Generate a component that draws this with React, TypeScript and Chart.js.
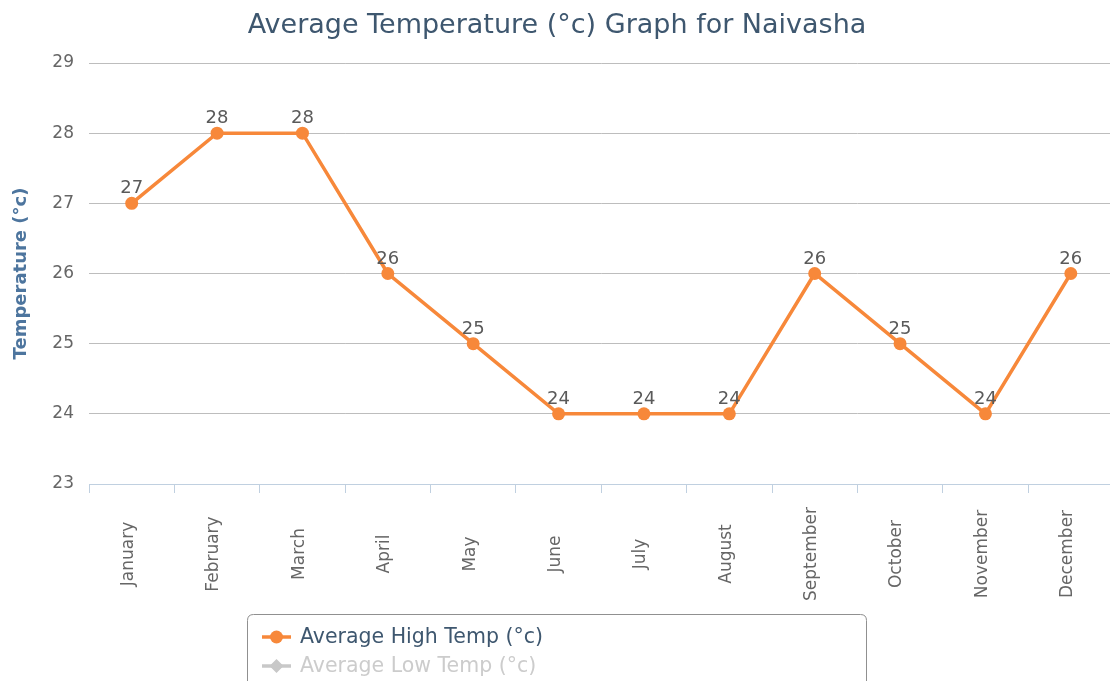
import React, { useEffect, useRef } from "react";
import { Chart, registerables } from "chart.js";

Chart.register(...registerables);

const months = [
  "January", "February", "March", "April", "May", "June",
  "July", "August", "September", "October", "November", "December",
];
const highTemps = [27, 28, 28, 26, 25, 24, 24, 24, 26, 25, 24, 26];
const lowTemps: number[] = []; // series hidden in the reference
const seriesLabels = ["Average High Temp (°c)", "Average Low Temp (°c)"];
const titleText = "Average Temperature (°c) Graph for Naivasha";
const yAxisTitle = "Temperature (°c)";
const yMin = 23;
const yMax = 29;
const yStep = 1;

const FONT = "'DejaVu Sans', Verdana, sans-serif";
const HIGH_COLOR = "#f7883a";
const LOW_COLOR = "#c8c8c8";

const W = 1120;
const H = 681;

const customPlugin = {
  id: "customDraw",
  afterDatasetsDraw(chart: any) {
    const ctx = chart.ctx;
    ctx.save();
    ctx.font = `18px ${FONT}`;
    ctx.fillStyle = "#5a5a5a";
    ctx.textAlign = "center";
    ctx.textBaseline = "alphabetic";
    chart.data.datasets.forEach((ds: any, di: number) => {
      if (!chart.isDatasetVisible(di)) return;
      const meta = chart.getDatasetMeta(di);
      meta.data.forEach((pt: any, i: number) => {
        ctx.fillText(String(ds.data[i]), pt.x, pt.y - 10);
      });
    });
    ctx.restore();
  },
  afterDraw(chart: any) {
    const ctx = chart.ctx;
    const xs = chart.scales.x;
    ctx.save();
    // title
    ctx.font = `27px ${FONT}`;
    ctx.fillStyle = "#3e576f";
    ctx.textAlign = "center";
    ctx.textBaseline = "middle";
    ctx.fillText(titleText, 557, 26);

    // x labels, rotated, centered
    ctx.font = `17px ${FONT}`;
    ctx.fillStyle = "#666666";
    months.forEach((m, i) => {
      const x = xs.getPixelForValue(i) - 3;
      ctx.save();
      ctx.translate(x, 554);
      ctx.rotate(-Math.PI / 2);
      ctx.textAlign = "center";
      ctx.textBaseline = "middle";
      ctx.fillText(m, 0, 0);
      ctx.restore();
    });

    // legend box
    const bx = 247.5, by = 614.5, bw = 619, bh = 90, r = 6;
    ctx.beginPath();
    ctx.moveTo(bx + r, by);
    ctx.lineTo(bx + bw - r, by);
    ctx.quadraticCurveTo(bx + bw, by, bx + bw, by + r);
    ctx.lineTo(bx + bw, by + bh - r);
    ctx.quadraticCurveTo(bx + bw, by + bh, bx + bw - r, by + bh);
    ctx.lineTo(bx + r, by + bh);
    ctx.quadraticCurveTo(bx, by + bh, bx, by + bh - r);
    ctx.lineTo(bx, by + r);
    ctx.quadraticCurveTo(bx, by, bx + r, by);
    ctx.closePath();
    ctx.fillStyle = "#ffffff";
    ctx.fill();
    ctx.strokeStyle = "#909090";
    ctx.lineWidth = 1;
    ctx.stroke();

    // item 1
    const y1 = 637;
    ctx.strokeStyle = HIGH_COLOR;
    ctx.lineWidth = 3.5;
    ctx.beginPath();
    ctx.moveTo(262, y1);
    ctx.lineTo(291, y1);
    ctx.stroke();
    ctx.fillStyle = HIGH_COLOR;
    ctx.beginPath();
    ctx.arc(276.5, y1, 6.5, 0, Math.PI * 2);
    ctx.fill();
    ctx.font = `20.5px ${FONT}`;
    ctx.fillStyle = "#3e576f";
    ctx.textAlign = "left";
    ctx.textBaseline = "middle";
    ctx.fillText(seriesLabels[0], 300, y1 + 1);

    // item 2 (hidden series)
    const y2 = 666;
    ctx.strokeStyle = LOW_COLOR;
    ctx.lineWidth = 3.5;
    ctx.beginPath();
    ctx.moveTo(262, y2);
    ctx.lineTo(291, y2);
    ctx.stroke();
    ctx.fillStyle = LOW_COLOR;
    ctx.beginPath();
    ctx.moveTo(276.5, y2 - 7);
    ctx.lineTo(283.5, y2);
    ctx.lineTo(276.5, y2 + 7);
    ctx.lineTo(269.5, y2);
    ctx.closePath();
    ctx.fill();
    ctx.font = `20.5px ${FONT}`;
    ctx.fillStyle = "#cccccc";
    ctx.fillText(seriesLabels[1], 300, y2 + 1);
    ctx.restore();
  },
};

export default function App() {
  const ref = useRef<HTMLCanvasElement | null>(null);

  useEffect(() => {
    document.body.style.margin = "0";
    document.body.style.overflow = "hidden";
    document.documentElement.style.overflow = "hidden";
    if (!ref.current) return;
    const chart = new Chart(ref.current, {
      type: "line",
      data: {
        labels: months,
        datasets: [
          {
            label: seriesLabels[0],
            data: highTemps,
            borderColor: HIGH_COLOR,
            backgroundColor: HIGH_COLOR,
            borderWidth: 3.5,
            pointRadius: 6.5,
            pointBorderWidth: 0,
            pointBackgroundColor: HIGH_COLOR,
            tension: 0,
          },
          {
            label: seriesLabels[1],
            data: lowTemps,
            hidden: true,
            borderColor: LOW_COLOR,
            backgroundColor: LOW_COLOR,
          },
        ],
      },
      options: {
        responsive: false,
        animation: false,
        layout: { padding: { top: 63, left: 0, right: 4, bottom: 0 } },
        plugins: {
          legend: { display: false },
          title: { display: false },
          tooltip: { enabled: false },
        },
        scales: {
          x: {
            type: "category",
            offset: true,
            grid: {
              display: true,
              drawOnChartArea: false,
              drawTicks: true,
              tickLength: 9,
              color: "#C0D0E0",
              offset: true,
            },
            border: { display: true, color: "#C0D0E0", width: 1 },
            ticks: { display: false },
            afterFit: (scale: any) => {
              scale.height = H - 484;
            },
          },
          y: {
            min: yMin,
            max: yMax,
            grid: {
              color: "#BDBDBD",
              lineWidth: 1,
              drawTicks: false,
            },
            border: { display: false },
            ticks: {
              stepSize: yStep,
              padding: 15,
              color: "#666666",
              font: { family: FONT, size: 17 },
            },
            title: {
              display: true,
              text: yAxisTitle,
              color: "#4d759e",
              font: { family: FONT, size: 18, weight: "bold" },
              padding: { top: 11, bottom: 0 },
            },
            afterFit: (scale: any) => {
              scale.width = 89;
            },
          },
        },
      },
      plugins: [customPlugin],
    });
    return () => chart.destroy();
  }, []);

  return (
    <div
      style={{
        position: "fixed",
        left: 0,
        top: 0,
        width: 1110,
        height: H,
        overflow: "hidden",
        background: "#fff",
      }}
    >
      <canvas ref={ref} width={W} height={H} style={{ display: "block", width: W, height: H }} />
    </div>
  );
}
